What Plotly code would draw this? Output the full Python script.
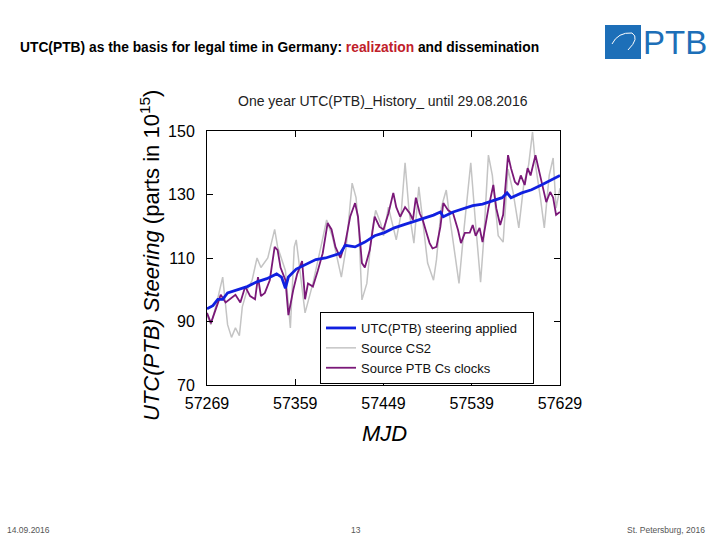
import plotly.graph_objects as go

# ---------------- data ----------------
x_ticks = [57269, 57359, 57449, 57539, 57629]
y_ticks = [70, 90, 110, 130, 150]

mjd_steer = [57269, 57275, 57280, 57285, 57290, 57300, 57310, 57320, 57330, 57340,
             57345, 57349, 57352, 57360, 57370, 57380, 57390, 57400, 57405, 57410,
             57420, 57430, 57440, 57450, 57460, 57470, 57480, 57490, 57500, 57507,
             57510, 57520, 57530, 57540, 57550, 57560, 57570, 57575, 57579, 57590,
             57600, 57610, 57620, 57629]
steer = [94, 95, 97, 97, 99, 100, 101, 102.5, 103.5, 105,
         104, 100.5, 104, 106.5, 108, 109.5, 110, 111, 111.5, 114,
         113.5, 115, 117, 118, 119.5, 120.5, 121.5, 122.5, 123.5, 124.5,
         123, 124.5, 125.5, 126.5, 127, 128, 129, 130.5, 129, 130.5,
         131.5, 133, 134.5, 136]

mjd_cs2 = [57269, 57273, 57279, 57285, 57290, 57294, 57298, 57302, 57305, 57310,
           57315, 57320, 57324, 57331, 57338, 57341, 57349, 57352, 57354, 57358,
           57360, 57369, 57377, 57386, 57391, 57397, 57406, 57411, 57417, 57421,
           57424, 57427, 57432, 57437, 57441, 57446, 57449, 57454, 57462, 57467,
           57471, 57475, 57480, 57485, 57489, 57494, 57500, 57503, 57508, 57513,
           57516, 57521, 57526, 57531, 57538, 57543, 57548, 57551, 57556, 57560,
           57566, 57571, 57576, 57581, 57587, 57592, 57597, 57601, 57604, 57609,
           57613, 57618, 57622, 57625, 57629]
cs2 = [92, 89, 96, 104, 89, 85, 88, 85.5, 94.6, 100,
       103, 110, 107, 110, 119, 113.5, 106, 95, 88, 113.5,
       115.7, 92.7, 102, 114.7, 122, 116.6, 104, 113.5, 133.6, 129,
       118, 96.8, 102, 118, 125, 121, 117, 126, 115.7, 124,
       140, 125, 114.7, 132.4, 121, 108.4, 103, 109.4, 126, 131.4,
       124, 113.5, 102, 118.8, 140, 120.4, 102.4, 115, 142.4, 136,
       117, 115, 138, 131, 119.5, 133, 139.3, 149.7, 139.3, 129,
       119.5, 136, 141.5, 125.7, 132]

mjd_cs = [57269, 57273, 57283, 57288, 57298, 57303, 57308, 57313, 57318, 57321,
          57324, 57328, 57333, 57338, 57341, 57344, 57349, 57352, 57357, 57361,
          57366, 57369, 57372, 57377, 57382, 57387, 57392, 57396, 57400, 57405,
          57410, 57415, 57420, 57423, 57427, 57430, 57435, 57440, 57445, 57449,
          57454, 57459, 57462, 57466, 57471, 57476, 57479, 57482, 57486, 57489,
          57492, 57496, 57499, 57503, 57507, 57510, 57515, 57520, 57525, 57528,
          57532, 57537, 57540, 57543, 57547, 57550, 57556, 57561, 57564, 57568,
          57571, 57574, 57576, 57579, 57583, 57586, 57589, 57593, 57596, 57599,
          57604, 57607, 57610, 57615, 57619, 57622, 57625, 57629]
cs = [92.7, 89.5, 98.4, 96, 98.4, 96, 101, 98, 97, 104,
      98, 99, 103, 113.5, 112.5, 107, 103, 92, 100, 105,
      109, 97, 102, 101, 106, 111.5, 121, 119, 113.5, 110,
      114.7, 123, 127.3, 123, 108.4, 107, 112.5, 123, 119.8, 119,
      124, 130.5, 126, 123, 126, 124, 122, 129, 124, 122,
      118.8, 114.7, 113, 113.5, 119.8, 127.3, 125, 124, 118.8, 114.7,
      117.9, 118, 120.4, 117, 119.5, 115, 125.7, 133, 125.7, 120.4,
      123.6, 136, 142.4, 138.3, 134, 133, 136, 133, 138.3, 136,
      142.4, 138.3, 134, 127.6, 130.8, 129, 123.6, 124.5]

# ---------------- layout helpers ----------------
W, H = 714, 540
L, R, T, B = 207, 560, 131, 385


def px(xp):
    return (xp - L) / (R - L)


def py(yp):
    return (B - yp) / (B - T)


FONT = "Liberation Sans, Arial, sans-serif"
PAD = "\u00a0" * 3

fig = go.Figure()
fig.add_trace(go.Scatter(x=mjd_cs2, y=cs2, mode="lines", name="Source CS2",
                         line=dict(color="#c4c4c4", width=1.5), legendrank=2))
fig.add_trace(go.Scatter(x=mjd_cs, y=cs, mode="lines", name="Source PTB Cs clocks",
                         line=dict(color="#7a1878", width=1.8), legendrank=3))
fig.add_trace(go.Scatter(x=mjd_steer, y=steer, mode="lines",
                         name="UTC(PTB) steering applied" + PAD,
                         line=dict(color="#1020e0", width=2.8), legendrank=1))

axis_common = dict(showline=True, mirror="ticks", linecolor="black", linewidth=1,
                   ticks="inside", ticklen=6, tickcolor="black", showgrid=False,
                   zeroline=False, tickfont=dict(family=FONT, size=16, color="black"))

fig.update_xaxes(range=[57269, 57629], tickvals=x_ticks, ticktext=[str(v) for v in x_ticks],
                 ticklabelstandoff=4, **axis_common)
fig.update_yaxes(range=[70, 150], tickvals=y_ticks, ticktext=[str(v) for v in y_ticks],
                 ticklabelstandoff=8, **axis_common)

annotations = [
    dict(text="One year UTC(PTB)_History_ until 29.08.2016", x=px(383), y=py(101),
         xanchor="center", yanchor="middle", showarrow=False,
         font=dict(family=FONT, size=14, color="#222")),
    dict(text="<i>MJD</i>", x=px(384), y=py(433), xanchor="center", yanchor="middle",
         showarrow=False, font=dict(family=FONT, size=22, color="black")),
    dict(text="<i>UTC(PTB) Steering</i> (parts in 10<sup>15</sup>)", x=px(150), y=py(256),
         xanchor="center", yanchor="middle", textangle=-90, showarrow=False,
         font=dict(family=FONT, size=22, color="black")),
    dict(text="<b>UTC(PTB) as the basis for legal time in Germany: "
              "<span style='color:#c0202a'>realization</span> and dissemination</b>",
         x=px(18), y=py(48), xanchor="left", yanchor="middle", showarrow=False,
         font=dict(family=FONT, size=13.8, color="black")),
    dict(text="PTB", x=px(641), y=py(43), xanchor="left", yanchor="middle", showarrow=False,
         font=dict(family=FONT, size=33, color="#1d6fb8")),
    dict(text="14.09.2016", x=px(5), y=py(530), xanchor="left", yanchor="middle",
         showarrow=False, font=dict(family=FONT, size=8.5, color="#555")),
    dict(text="13", x=px(356), y=py(530), xanchor="center", yanchor="middle",
         showarrow=False, font=dict(family=FONT, size=8.5, color="#555")),
    dict(text="St. Petersburg, 2016", x=px(707), y=py(530), xanchor="right", yanchor="middle",
         showarrow=False, font=dict(family=FONT, size=8.5, color="#555")),
]
for a in annotations:
    a["xref"] = "paper"
    a["yref"] = "paper"

shapes = [
    dict(type="rect", xref="paper", yref="paper", x0=px(605), x1=px(641), y0=py(59), y1=py(25),
         fillcolor="#1d6fb8", line=dict(width=0), layer="above"),
    dict(type="path", xref="paper", yref="paper",
         path="M {:.4f},{:.4f} Q {:.4f},{:.4f} {:.4f},{:.4f} Q {:.4f},{:.4f} {:.4f},{:.4f}".format(
             px(612), py(44), px(618), py(32), px(632), py(33), px(640), py(38), px(628), py(50)),
         line=dict(color="white", width=1), layer="above"),
]

fig.update_layout(
    width=W, height=H,
    margin=dict(l=L, r=W - R, t=T, b=H - B, autoexpand=False),
    paper_bgcolor="white", plot_bgcolor="white",
    font=dict(family=FONT, color="black"),
    showlegend=True,
    legend=dict(x=px(320), y=py(312), xanchor="left", yanchor="top",
                bgcolor="white", bordercolor="black", borderwidth=1,
                font=dict(family=FONT, size=13, color="#111"),
                tracegroupgap=0, itemwidth=30),
    annotations=annotations,
    shapes=shapes,
)

fig.write_html("out.html", config={"displayModeBar": False},
               post_script="document.body.style.margin='0px';")
